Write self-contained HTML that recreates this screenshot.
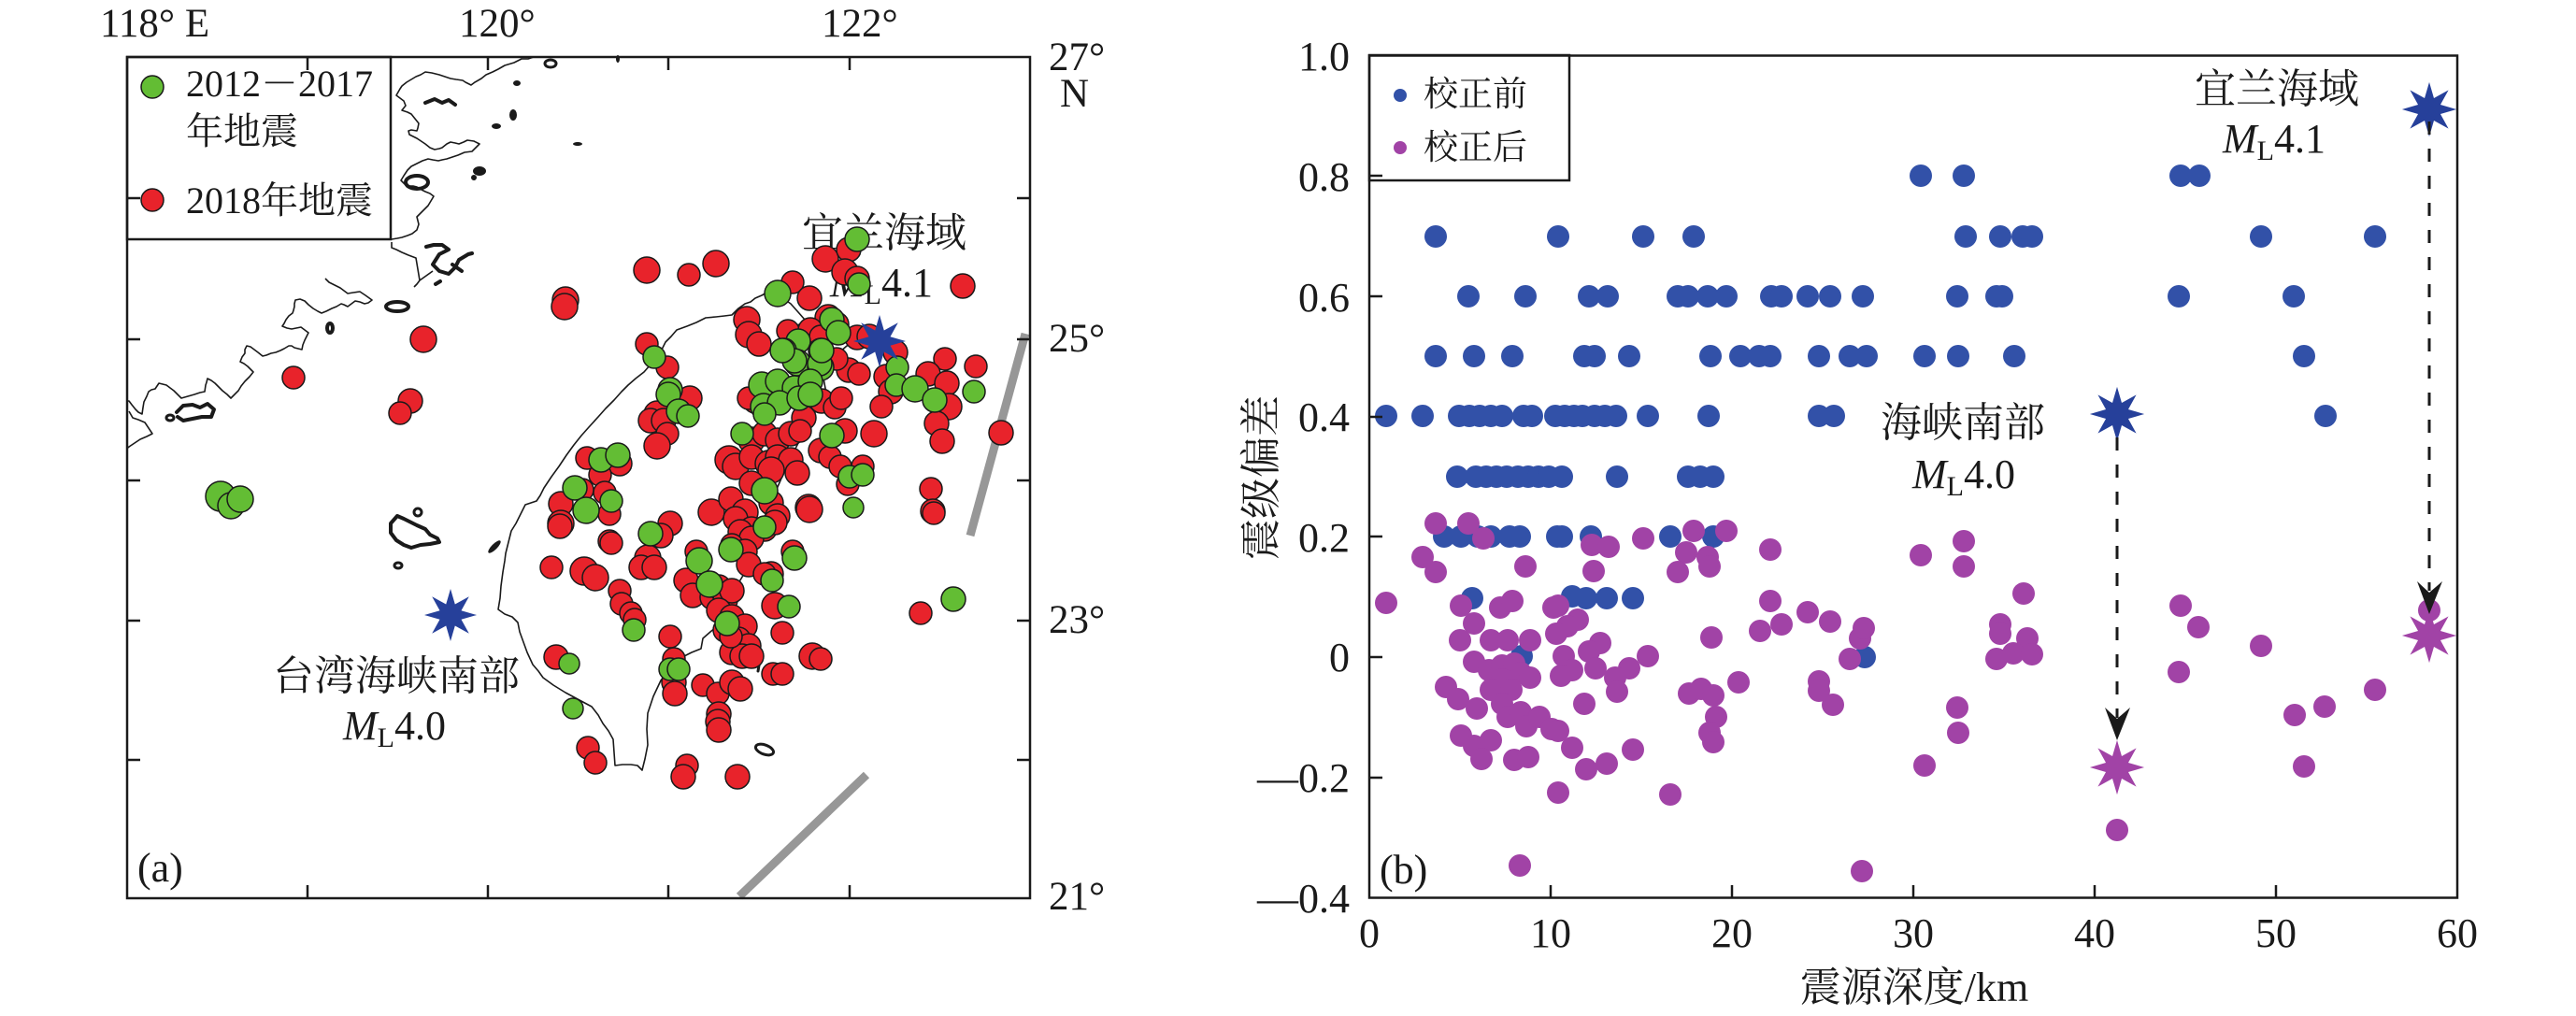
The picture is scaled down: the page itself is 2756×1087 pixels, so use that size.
<!DOCTYPE html>
<html>
<head>
<meta charset="utf-8">
<style>
html,body{margin:0;padding:0;background:#fff;}
body{width:2756px;height:1087px;overflow:hidden;}
svg{display:block;}
text{font-family:"Liberation Serif","Noto Serif CJK SC",serif;fill:#1a1a1a;}
</style>
</head>
<body>
<svg width="2756" height="1087" viewBox="0 0 2756 1087" xmlns="http://www.w3.org/2000/svg">
<rect x="0" y="0" width="2756" height="1087" fill="#fff"/>

<!-- ================= MAP (a) ================= -->
<g fill="none" stroke="#1a1a1a" stroke-width="1.6" stroke-linejoin="round">
<path d="M571,61 L565,63 558,63 550,67 540,70 533,74 527,77 520,80 515,84 508,88 504,91 498,88 495,86 488,85 482,84 476,82 470,80 462,78 455,77 450,80 445,82 440,85 435,88 430,92 428,95 424,102 428,105 432,108 434,113 430,118 436,120 440,122 444,127 448,132 447,137 446,140 440,139 437,140 438,144 446,148 455,154 460,158 465,160 470,159 473,158 478,154 482,152 487,153 491,154 496,152 500,150 507,151 513,154 509,158 505,162 497,163 490,166 484,168 478,170 473,171 469,172 463,171 458,170 452,172 446,175 440,178 436,182 432,188 429,193 433,197 437,199 442,199 446,200 451,203 455,205 460,207 464,210 461,215 458,220 454,224 450,228 446,232 447,236 448,240 447,243 446,246 441,250 436,252 430,254 425,255 419,256"/>
<path d="M419,259 L419,265 424,267 430,270 437,273 445,276 446,282 447,288 448,294 449,300 446,304 443,307 M449,300 L456,295 463,290"/>
<path d="M348,298 L352,302 356,304 360,306 364,308 368,311 372,314 378,313 385,312 391,316 398,321 394,324 390,325 385,323 380,322 376,325 372,328 368,326 365,325 360,328 355,330 349,333 344,335 340,333 335,330 330,326 326,322 321,320 316,321 315,325 315,328 314,332 313,335 309,338 306,342 304,346 302,349 307,351 312,352 317,351 322,350 326,353 330,356 328,360 326,364 324,369 323,374 319,373 315,372 312,370 309,370 304,373 300,375 295,377 290,378 285,380 281,381 276,377 272,374 268,371 264,370 262,374 262,378 259,382 257,387 261,389 265,392 268,395 271,398 267,403 262,408 258,413 255,418 251,422 247,426 243,422 238,418 234,414 230,410 226,407 222,405 221,409 220,412 219,419 214,420 208,422 201,424 194,426 190,422 186,418 182,415 178,412 174,411 170,410 168,413 166,416 162,417 159,419 157,424 154,430 153,436 152,443 148,441 145,438 141,433 138,429 137,429"/>
<path d="M138,440 L142,447 148,449 155,452 159,458 163,464 157,467 150,470 144,474 138,478 137,479"/>
</g>
<g fill="none" stroke="#1a1a1a" stroke-width="4" stroke-linejoin="round" stroke-linecap="round">
<path d="M456,264 L464,262 473,262 480,267 470,272 463,283 470,290 480,293 487,286 491,278 501,272 505,271"/>
<path d="M484,283 L494,290 M466,304 L471,301"/>
<ellipse cx="425" cy="328" rx="12" ry="5"/>
<ellipse cx="353" cy="351" rx="3" ry="5"/>
<path d="M189,441 L196,434 206,433 214,436 222,432 229,438 226,446 216,446 206,448 196,450 190,446"/>
<ellipse cx="182" cy="447" rx="4" ry="3" stroke-width="3"/>
<ellipse cx="446" cy="195" rx="12" ry="7"/>
<path d="M455,110 L465,106 473,110 480,107 487,112"/>
<ellipse cx="589" cy="68" rx="6" ry="4" stroke-width="3"/>
<path d="M418,560 L425,552 432,555 438,558 446,562 455,566 460,572 468,576 470,580 460,582 450,583 440,586 432,583 424,578 418,570 Z"/>
<circle cx="447" cy="548" r="4" stroke-width="3"/>
<ellipse cx="426" cy="605" rx="4" ry="3" stroke-width="3"/>
<ellipse cx="818" cy="802" rx="10" ry="5" stroke-width="3" transform="rotate(20 818 802)"/>
<path d="M806,709 L812,712 811,718" stroke-width="3"/>
</g>
<g fill="#1a1a1a">
<ellipse cx="513" cy="183" rx="7" ry="5"/>
<ellipse cx="507" cy="190" rx="3" ry="3"/>
<ellipse cx="531" cy="135" rx="5" ry="3"/>
<ellipse cx="549" cy="123" rx="4" ry="6"/>
<ellipse cx="553" cy="89" rx="4" ry="3"/>
<ellipse cx="618" cy="154" rx="5" ry="2"/>
<ellipse cx="661" cy="63" rx="2" ry="4"/>
<ellipse cx="529" cy="585" rx="9" ry="3" transform="rotate(-45 529 585)"/>
</g>
<path fill="none" stroke="#1a1a1a" stroke-width="1.6" stroke-linejoin="round" d="M822,312 L815,316 808,319 803,323 797,325 790,330 783,337 775,338 766,339 755,340 745,345 735,349 724,353 718,360 712,366 710,370 706,378 703,384 696,390 689,398 680,405 672,412 665,419 657,428 648,437 640,446 630,457 622,466 614,476 606,487 598,499 590,510 582,522 578,530 574,536 568,538 562,540 558,548 552,560 547,568 544,580 541,592 540,600 538,612 536,627 535,640 533,652 540,657 548,660 554,666 556,676 560,687 564,698 570,711 576,718 581,725 592,733 605,741 618,748 633,756 640,765 645,774 651,782 656,791 657,805 658,819 666,818 675,818 682,819 687,824 690,812 693,797 692,780 693,763 699,745 707,728 716,716 728,704 740,698 750,694 752,683 760,676 766,671 771,657 776,645 783,634 790,624 796,614 801,605 806,595 811,585 811,571 816,558 822,545 828,530 835,514 842,498 850,482 860,462 870,444 878,432 884,421 882,410 880,398 888,388 897,378 906,370 916,367 909,360 898,356 888,350 878,346 868,344 861,342 854,334 846,325 836,318 828,313 822,312"/>

<g stroke="#979797" stroke-width="9" fill="none">
<line x1="791" y1="959" x2="927" y2="829"/>
<line x1="1038" y1="573" x2="1097" y2="357"/>
</g>

<!-- Yilan label drawn under circles -->
<g font-size="44">
<text x="946" y="264" text-anchor="middle">宜兰海域</text>
<text x="888" y="317"><tspan font-style="italic">M</tspan><tspan font-size="30" dy="8">L</tspan><tspan dy="-8">4.1</tspan></text>
</g>

<g fill="#e8232b" stroke="#1a1a1a" stroke-width="1.5">
<circle cx="453" cy="363" r="14"/><circle cx="314" cy="404" r="12"/><circle cx="439" cy="429" r="13"/><circle cx="428" cy="442" r="12"/>
<circle cx="605" cy="321" r="14"/><circle cx="604" cy="328" r="14"/><circle cx="692" cy="289" r="14"/><circle cx="737" cy="294" r="12"/>
<circle cx="766" cy="282" r="14"/><circle cx="883" cy="277" r="14"/><circle cx="908" cy="267" r="13"/><circle cx="904" cy="291" r="14"/>
<circle cx="917" cy="298" r="13"/><circle cx="1030" cy="306" r="13"/><circle cx="848" cy="302" r="12"/><circle cx="866" cy="319" r="13"/>
<circle cx="799" cy="342" r="14"/><circle cx="801" cy="358" r="14"/><circle cx="812" cy="368" r="13"/><circle cx="692" cy="368" r="12"/>
<circle cx="714" cy="393" r="12"/><circle cx="886" cy="340" r="14"/><circle cx="895" cy="347" r="13"/><circle cx="917" cy="361" r="13"/>
<circle cx="1011" cy="384" r="12"/><circle cx="1044" cy="392" r="12"/><circle cx="857" cy="360" r="13"/><circle cx="843" cy="354" r="12"/>
<circle cx="867" cy="353" r="13"/><circle cx="878" cy="360" r="12"/><circle cx="908" cy="396" r="13"/><circle cx="919" cy="400" r="12"/>
<circle cx="948" cy="403" r="13"/><circle cx="953" cy="419" r="13"/><circle cx="993" cy="400" r="13"/><circle cx="1013" cy="410" r="13"/>
<circle cx="1015" cy="435" r="14"/><circle cx="1002" cy="453" r="13"/><circle cx="1008" cy="472" r="13"/><circle cx="1071" cy="463" r="13"/>
<circle cx="943" cy="435" r="12"/><circle cx="958" cy="377" r="13"/><circle cx="930" cy="360" r="13"/><circle cx="895" cy="384" r="12"/>
<circle cx="860" cy="447" r="13"/><circle cx="808" cy="429" r="13"/><circle cx="801" cy="426" r="12"/><circle cx="879" cy="429" r="13"/>
<circle cx="893" cy="436" r="12"/><circle cx="900" cy="426" r="12"/><circle cx="738" cy="426" r="13"/><circle cx="703" cy="443" r="14"/>
<circle cx="696" cy="450" r="13"/><circle cx="710" cy="450" r="13"/><circle cx="714" cy="464" r="12"/><circle cx="703" cy="477" r="14"/>
<circle cx="628" cy="490" r="12"/><circle cx="663" cy="496" r="13"/><circle cx="642" cy="508" r="12"/><circle cx="623" cy="524" r="12"/>
<circle cx="600" cy="539" r="13"/><circle cx="600" cy="560" r="14"/><circle cx="647" cy="527" r="12"/><circle cx="652" cy="550" r="12"/>
<circle cx="935" cy="464" r="14"/><circle cx="904" cy="461" r="13"/><circle cx="878" cy="482" r="13"/><circle cx="888" cy="489" r="12"/>
<circle cx="899" cy="499" r="12"/><circle cx="804" cy="471" r="14"/><circle cx="818" cy="464" r="13"/><circle cx="832" cy="471" r="13"/>
<circle cx="846" cy="464" r="13"/><circle cx="856" cy="461" r="12"/><circle cx="780" cy="492" r="15"/><circle cx="787" cy="499" r="14"/>
<circle cx="804" cy="489" r="13"/><circle cx="822" cy="496" r="14"/><circle cx="832" cy="489" r="13"/><circle cx="846" cy="492" r="13"/>
<circle cx="853" cy="506" r="13"/><circle cx="825" cy="503" r="14"/><circle cx="923" cy="499" r="12"/><circle cx="907" cy="518" r="12"/>
<circle cx="996" cy="523" r="12"/><circle cx="998" cy="547" r="13"/><circle cx="865" cy="543" r="14"/><circle cx="761" cy="548" r="14"/>
<circle cx="782" cy="534" r="13"/><circle cx="804" cy="517" r="13"/><circle cx="825" cy="538" r="13"/><circle cx="832" cy="552" r="13"/>
<circle cx="797" cy="548" r="14"/><circle cx="787" cy="555" r="13"/><circle cx="804" cy="566" r="13"/><circle cx="818" cy="566" r="13"/>
<circle cx="829" cy="559" r="13"/><circle cx="792" cy="569" r="13"/><circle cx="804" cy="576" r="13"/><circle cx="783" cy="583" r="12"/>
<circle cx="797" cy="590" r="13"/><circle cx="801" cy="604" r="13"/><circle cx="848" cy="590" r="12"/><circle cx="825" cy="614" r="13"/>
<circle cx="818" cy="614" r="12"/><circle cx="829" cy="648" r="14"/><circle cx="985" cy="656" r="12"/><circle cx="837" cy="677" r="12"/>
<circle cx="869" cy="702" r="14"/><circle cx="878" cy="705" r="12"/><circle cx="827" cy="721" r="12"/><circle cx="837" cy="721" r="12"/>
<circle cx="717" cy="560" r="13"/><circle cx="707" cy="573" r="13"/><circle cx="652" cy="579" r="12"/><circle cx="693" cy="597" r="14"/>
<circle cx="686" cy="607" r="13"/><circle cx="700" cy="607" r="13"/><circle cx="590" cy="607" r="12"/><circle cx="625" cy="611" r="15"/>
<circle cx="637" cy="618" r="14"/><circle cx="663" cy="632" r="12"/><circle cx="665" cy="646" r="12"/><circle cx="675" cy="656" r="12"/>
<circle cx="679" cy="663" r="12"/><circle cx="745" cy="590" r="12"/><circle cx="734" cy="621" r="13"/><circle cx="741" cy="637" r="13"/>
<circle cx="762" cy="639" r="13"/><circle cx="769" cy="628" r="13"/><circle cx="776" cy="642" r="13"/><circle cx="783" cy="632" r="13"/>
<circle cx="769" cy="653" r="13"/><circle cx="783" cy="660" r="13"/><circle cx="797" cy="670" r="13"/><circle cx="776" cy="674" r="13"/>
<circle cx="790" cy="684" r="13"/><circle cx="801" cy="691" r="13"/><circle cx="783" cy="698" r="13"/><circle cx="794" cy="702" r="13"/>
<circle cx="804" cy="702" r="13"/><circle cx="782" cy="681" r="12"/><circle cx="717" cy="681" r="12"/><circle cx="721" cy="705" r="12"/>
<circle cx="721" cy="730" r="13"/><circle cx="722" cy="742" r="13"/><circle cx="752" cy="733" r="12"/><circle cx="768" cy="742" r="12"/>
<circle cx="783" cy="730" r="13"/><circle cx="792" cy="737" r="13"/><circle cx="769" cy="764" r="13"/><circle cx="768" cy="772" r="13"/>
<circle cx="769" cy="781" r="13"/><circle cx="735" cy="819" r="12"/><circle cx="731" cy="831" r="13"/><circle cx="789" cy="831" r="13"/>
<circle cx="595" cy="703" r="13"/><circle cx="629" cy="800" r="12"/><circle cx="637" cy="816" r="12"/><circle cx="999" cy="549" r="12"/>
<circle cx="599" cy="563" r="13"/><circle cx="654" cy="581" r="12"/><circle cx="866" cy="545" r="14"/>
</g>
<g fill="#63bd34" stroke="#1a1a1a" stroke-width="1.5">
<circle cx="236" cy="531" r="16"/><circle cx="247" cy="541" r="14"/><circle cx="257" cy="534" r="14"/>
<circle cx="917" cy="256" r="13"/><circle cx="832" cy="314" r="14"/><circle cx="919" cy="304" r="12"/><circle cx="890" cy="342" r="13"/>
<circle cx="897" cy="356" r="13"/><circle cx="854" cy="365" r="13"/><circle cx="839" cy="375" r="13"/><circle cx="878" cy="375" r="13"/>
<circle cx="853" cy="388" r="14"/><circle cx="878" cy="393" r="14"/><circle cx="850" cy="386" r="13"/><circle cx="877" cy="389" r="13"/>
<circle cx="837" cy="375" r="13"/><circle cx="879" cy="375" r="13"/><circle cx="960" cy="393" r="12"/><circle cx="959" cy="412" r="12"/>
<circle cx="979" cy="416" r="14"/><circle cx="1000" cy="428" r="13"/><circle cx="1042" cy="419" r="12"/><circle cx="815" cy="412" r="14"/>
<circle cx="832" cy="408" r="13"/><circle cx="850" cy="415" r="13"/><circle cx="867" cy="408" r="13"/><circle cx="817" cy="435" r="14"/>
<circle cx="834" cy="431" r="13"/><circle cx="855" cy="426" r="13"/><circle cx="867" cy="422" r="13"/><circle cx="818" cy="443" r="12"/>
<circle cx="700" cy="382" r="12"/><circle cx="717" cy="417" r="13"/><circle cx="715" cy="422" r="13"/><circle cx="726" cy="440" r="13"/>
<circle cx="736" cy="445" r="12"/><circle cx="890" cy="466" r="13"/><circle cx="794" cy="464" r="12"/><circle cx="909" cy="510" r="12"/>
<circle cx="923" cy="508" r="12"/><circle cx="913" cy="543" r="11"/><circle cx="818" cy="525" r="14"/><circle cx="818" cy="564" r="12"/>
<circle cx="782" cy="588" r="13"/><circle cx="850" cy="597" r="13"/><circle cx="826" cy="621" r="12"/><circle cx="844" cy="649" r="12"/>
<circle cx="1020" cy="641" r="13"/><circle cx="643" cy="492" r="13"/><circle cx="661" cy="487" r="13"/><circle cx="615" cy="522" r="13"/>
<circle cx="627" cy="546" r="14"/><circle cx="654" cy="536" r="12"/><circle cx="696" cy="571" r="13"/><circle cx="748" cy="600" r="14"/>
<circle cx="759" cy="625" r="14"/><circle cx="778" cy="667" r="13"/><circle cx="678" cy="674" r="12"/><circle cx="609" cy="710" r="11"/>
<circle cx="717" cy="716" r="12"/><circle cx="726" cy="716" r="12"/><circle cx="613" cy="758" r="11"/>
</g>

<g fill="#26409a">
<polygon transform="translate(482,658)" points="28,0 11.5,4.8 19.8,19.8 4.8,11.5 0,28 -4.8,11.5 -19.8,19.8 -11.5,4.8 -28,0 -11.5,-4.8 -19.8,-19.8 -4.8,-11.5 0,-28 4.8,-11.5 19.8,-19.8 11.5,-4.8"/>
<polygon transform="translate(941,365)" points="28,0 11.5,4.8 19.8,19.8 4.8,11.5 0,28 -4.8,11.5 -19.8,19.8 -11.5,4.8 -28,0 -11.5,-4.8 -19.8,-19.8 -4.8,-11.5 0,-28 4.8,-11.5 19.8,-19.8 11.5,-4.8"/>
</g>

<rect x="136" y="61" width="282" height="195" fill="#fff" stroke="#1a1a1a" stroke-width="2.5"/>
<circle cx="163" cy="93" r="12" fill="#63bd34" stroke="#1a1a1a" stroke-width="1.5"/>
<circle cx="163" cy="214" r="12" fill="#e8232b" stroke="#1a1a1a" stroke-width="1.5"/>
<text x="199" y="103" font-size="40">2012－2017</text>
<text x="199" y="154" font-size="40">年地震</text>
<text x="199" y="228" font-size="40">2018年地震</text>

<rect x="136" y="61" width="966" height="900" fill="none" stroke="#1a1a1a" stroke-width="2.5"/>
<g stroke="#1a1a1a" stroke-width="2.5">
<line x1="329" y1="61" x2="329" y2="75"/><line x1="522" y1="61" x2="522" y2="75"/><line x1="715" y1="61" x2="715" y2="75"/><line x1="909" y1="61" x2="909" y2="75"/>
<line x1="329" y1="961" x2="329" y2="947"/><line x1="522" y1="961" x2="522" y2="947"/><line x1="715" y1="961" x2="715" y2="947"/><line x1="909" y1="961" x2="909" y2="947"/>
<line x1="136" y1="212" x2="150" y2="212"/><line x1="136" y1="363" x2="150" y2="363"/><line x1="136" y1="514" x2="150" y2="514"/><line x1="136" y1="664" x2="150" y2="664"/><line x1="136" y1="813" x2="150" y2="813"/>
<line x1="1102" y1="212" x2="1088" y2="212"/><line x1="1102" y1="363" x2="1088" y2="363"/><line x1="1102" y1="514" x2="1088" y2="514"/><line x1="1102" y1="664" x2="1088" y2="664"/><line x1="1102" y1="813" x2="1088" y2="813"/>
</g>
<g font-size="43">
<text x="107" y="39">118° E</text>
<text x="491" y="39">120°</text>
<text x="879" y="39">122°</text>
<text x="1122" y="75">27°</text>
<text x="1134" y="114">N</text>
<text x="1122" y="376">25°</text>
<text x="1122" y="677">23°</text>
<text x="1122" y="973">21°</text>
</g>
<g font-size="44">
<text x="292" y="738">台湾海峡南部</text>
<text x="367" y="791"><tspan font-style="italic">M</tspan><tspan font-size="30" dy="8">L</tspan><tspan dy="-8">4.0</tspan></text>
<text x="147" y="943">(a)</text>
</g>

<!-- ================= CHART (b) ================= -->
<g fill="#3251a8">
<circle cx="2055" cy="188" r="12"/><circle cx="2101" cy="188" r="12"/><circle cx="2333" cy="188" r="12"/><circle cx="2353" cy="188" r="12"/>
<circle cx="1536" cy="253" r="12"/><circle cx="1667" cy="253" r="12"/><circle cx="1758" cy="253" r="12"/><circle cx="1812" cy="253" r="12"/><circle cx="2103" cy="253" r="12"/><circle cx="2140" cy="253" r="12"/><circle cx="2164" cy="253" r="12"/><circle cx="2174" cy="253" r="12"/><circle cx="2419" cy="253" r="12"/><circle cx="2541" cy="253" r="12"/>
<circle cx="1571" cy="317" r="12"/><circle cx="1632" cy="317" r="12"/><circle cx="1700" cy="317" r="12"/><circle cx="1720" cy="317" r="12"/><circle cx="1795" cy="317" r="12"/><circle cx="1806" cy="317" r="12"/><circle cx="1827" cy="317" r="12"/><circle cx="1847" cy="317" r="12"/><circle cx="1895" cy="317" r="12"/><circle cx="1906" cy="317" r="12"/><circle cx="1934" cy="317" r="12"/><circle cx="1958" cy="317" r="12"/><circle cx="1993" cy="317" r="12"/><circle cx="2094" cy="317" r="12"/><circle cx="2136" cy="317" r="12"/><circle cx="2142" cy="317" r="12"/><circle cx="2331" cy="317" r="12"/><circle cx="2454" cy="317" r="12"/>
<circle cx="1536" cy="381" r="12"/><circle cx="1577" cy="381" r="12"/><circle cx="1618" cy="381" r="12"/><circle cx="1695" cy="381" r="12"/><circle cx="1706" cy="381" r="12"/><circle cx="1743" cy="381" r="12"/><circle cx="1830" cy="381" r="12"/><circle cx="1862" cy="381" r="12"/><circle cx="1882" cy="381" r="12"/><circle cx="1894" cy="381" r="12"/><circle cx="1946" cy="381" r="12"/><circle cx="1979" cy="381" r="12"/><circle cx="1997" cy="381" r="12"/><circle cx="2059" cy="381" r="12"/><circle cx="2095" cy="381" r="12"/><circle cx="2155" cy="381" r="12"/><circle cx="2465" cy="381" r="12"/>
<circle cx="1483" cy="445" r="12"/><circle cx="1522" cy="445" r="12"/><circle cx="1561" cy="445" r="12"/><circle cx="1572" cy="445" r="12"/><circle cx="1583" cy="445" r="12"/><circle cx="1595" cy="445" r="12"/><circle cx="1607" cy="445" r="12"/><circle cx="1630" cy="445" r="12"/><circle cx="1639" cy="445" r="12"/><circle cx="1664" cy="445" r="12"/><circle cx="1674" cy="445" r="12"/><circle cx="1684" cy="445" r="12"/><circle cx="1693" cy="445" r="12"/><circle cx="1706" cy="445" r="12"/><circle cx="1717" cy="445" r="12"/><circle cx="1729" cy="445" r="12"/><circle cx="1763" cy="445" r="12"/><circle cx="1828" cy="445" r="12"/><circle cx="1946" cy="445" r="12"/><circle cx="1962" cy="445" r="12"/><circle cx="2488" cy="445" r="12"/>
<circle cx="1559" cy="510" r="12"/><circle cx="1579" cy="510" r="12"/><circle cx="1590" cy="510" r="12"/><circle cx="1601" cy="510" r="12"/><circle cx="1612" cy="510" r="12"/><circle cx="1624" cy="510" r="12"/><circle cx="1635" cy="510" r="12"/><circle cx="1646" cy="510" r="12"/><circle cx="1657" cy="510" r="12"/><circle cx="1671" cy="510" r="12"/><circle cx="1730" cy="510" r="12"/><circle cx="1806" cy="510" r="12"/><circle cx="1819" cy="510" r="12"/><circle cx="1833" cy="510" r="12"/>
<circle cx="1545" cy="574" r="12"/><circle cx="1563" cy="574" r="12"/><circle cx="1581" cy="574" r="12"/><circle cx="1595" cy="574" r="12"/><circle cx="1615" cy="574" r="12"/><circle cx="1626" cy="574" r="12"/><circle cx="1666" cy="574" r="12"/><circle cx="1671" cy="574" r="12"/><circle cx="1702" cy="574" r="12"/><circle cx="1787" cy="574" r="12"/><circle cx="1833" cy="574" r="12"/>
<circle cx="1575" cy="640" r="12"/><circle cx="1682" cy="638" r="12"/><circle cx="1697" cy="640" r="12"/><circle cx="1719" cy="640" r="12"/><circle cx="1747" cy="640" r="12"/>
<circle cx="1628" cy="702" r="12"/><circle cx="1995" cy="703" r="12"/>
</g>
<g fill="#a143a6">
<circle cx="1536" cy="560" r="12"/><circle cx="1571" cy="560" r="12"/><circle cx="1587" cy="576" r="12"/><circle cx="1522" cy="596" r="12"/><circle cx="1536" cy="612" r="12"/><circle cx="1632" cy="606" r="12"/><circle cx="1703" cy="583" r="12"/><circle cx="1721" cy="585" r="12"/><circle cx="1705" cy="611" r="12"/><circle cx="1758" cy="576" r="12"/><circle cx="1812" cy="568" r="12"/><circle cx="1847" cy="568" r="12"/><circle cx="1804" cy="591" r="12"/><circle cx="1827" cy="596" r="12"/><circle cx="1829" cy="606" r="12"/><circle cx="1795" cy="612" r="12"/><circle cx="1894" cy="588" r="12"/>
<circle cx="1483" cy="645" r="12"/><circle cx="1563" cy="648" r="12"/><circle cx="1577" cy="667" r="12"/><circle cx="1605" cy="650" r="12"/><circle cx="1618" cy="643" r="12"/><circle cx="1662" cy="650" r="12"/><circle cx="1667" cy="648" r="12"/><circle cx="1688" cy="663" r="12"/><circle cx="1677" cy="670" r="12"/><circle cx="1665" cy="678" r="12"/><circle cx="1562" cy="685" r="12"/><circle cx="1595" cy="685" r="12"/><circle cx="1613" cy="685" r="12"/><circle cx="1637" cy="685" r="12"/><circle cx="1673" cy="702" r="12"/><circle cx="1712" cy="688" r="12"/><circle cx="1700" cy="697" r="12"/><circle cx="1763" cy="702" r="12"/>
<circle cx="1577" cy="708" r="12"/><circle cx="1593" cy="717" r="12"/><circle cx="1607" cy="712" r="12"/><circle cx="1620" cy="710" r="12"/><circle cx="1627" cy="720" r="12"/><circle cx="1637" cy="725" r="12"/><circle cx="1607" cy="727" r="12"/><circle cx="1682" cy="717" r="12"/><circle cx="1670" cy="723" r="12"/><circle cx="1707" cy="715" r="12"/><circle cx="1743" cy="715" r="12"/><circle cx="1728" cy="725" r="12"/><circle cx="1730" cy="740" r="12"/>
<circle cx="1547" cy="735" r="12"/><circle cx="1560" cy="748" r="12"/><circle cx="1580" cy="758" r="12"/><circle cx="1595" cy="738" r="12"/><circle cx="1617" cy="738" r="12"/><circle cx="1607" cy="753" r="12"/><circle cx="1613" cy="767" r="12"/><circle cx="1627" cy="762" r="12"/><circle cx="1633" cy="777" r="12"/><circle cx="1647" cy="767" r="12"/><circle cx="1660" cy="780" r="12"/><circle cx="1667" cy="782" r="12"/><circle cx="1695" cy="753" r="12"/>
<circle cx="1563" cy="787" r="12"/><circle cx="1577" cy="798" r="12"/><circle cx="1595" cy="792" r="12"/><circle cx="1585" cy="812" r="12"/><circle cx="1620" cy="813" r="12"/><circle cx="1635" cy="810" r="12"/><circle cx="1682" cy="800" r="12"/><circle cx="1697" cy="823" r="12"/><circle cx="1719" cy="817" r="12"/><circle cx="1747" cy="802" r="12"/><circle cx="1667" cy="848" r="12"/><circle cx="1787" cy="850" r="12"/><circle cx="1626" cy="926" r="12"/><circle cx="1992" cy="932" r="12"/>
<circle cx="1894" cy="643" r="12"/><circle cx="1934" cy="655" r="12"/><circle cx="1958" cy="665" r="12"/><circle cx="1883" cy="675" r="12"/><circle cx="1906" cy="668" r="12"/><circle cx="1831" cy="682" r="12"/><circle cx="1990" cy="683" r="12"/><circle cx="1994" cy="672" r="12"/><circle cx="1979" cy="705" r="12"/>
<circle cx="1860" cy="730" r="12"/><circle cx="1807" cy="742" r="12"/><circle cx="1820" cy="737" r="12"/><circle cx="1833" cy="744" r="12"/><circle cx="1836" cy="767" r="12"/><circle cx="1829" cy="784" r="12"/><circle cx="1833" cy="794" r="12"/><circle cx="1946" cy="729" r="12"/><circle cx="1946" cy="739" r="12"/><circle cx="1961" cy="754" r="12"/>
<circle cx="2055" cy="594" r="12"/><circle cx="2101" cy="579" r="12"/><circle cx="2101" cy="606" r="12"/><circle cx="2165" cy="635" r="12"/><circle cx="2140" cy="668" r="12"/><circle cx="2140" cy="678" r="12"/><circle cx="2169" cy="683" r="12"/><circle cx="2154" cy="699" r="12"/><circle cx="2174" cy="700" r="12"/><circle cx="2136" cy="705" r="12"/><circle cx="2094" cy="757" r="12"/><circle cx="2095" cy="784" r="12"/><circle cx="2059" cy="819" r="12"/><circle cx="2265" cy="888" r="12"/><circle cx="2333" cy="648" r="12"/><circle cx="2352" cy="671" r="12"/><circle cx="2331" cy="719" r="12"/><circle cx="2419" cy="691" r="12"/><circle cx="2455" cy="765" r="12"/><circle cx="2487" cy="756" r="12"/><circle cx="2465" cy="820" r="12"/><circle cx="2541" cy="738" r="12"/><circle cx="2599" cy="653" r="12"/>
</g>

<polygon fill="#26409a" transform="translate(2265,443) scale(1.04)" points="28,0 11.5,4.8 19.8,19.8 4.8,11.5 0,28 -4.8,11.5 -19.8,19.8 -11.5,4.8 -28,0 -11.5,-4.8 -19.8,-19.8 -4.8,-11.5 0,-28 4.8,-11.5 19.8,-19.8 11.5,-4.8"/>
<polygon fill="#26409a" transform="translate(2599,117) scale(1.04)" points="28,0 11.5,4.8 19.8,19.8 4.8,11.5 0,28 -4.8,11.5 -19.8,19.8 -11.5,4.8 -28,0 -11.5,-4.8 -19.8,-19.8 -4.8,-11.5 0,-28 4.8,-11.5 19.8,-19.8 11.5,-4.8"/>
<polygon fill="#a143a6" transform="translate(2265,821) scale(1.04)" points="28,0 11.5,4.8 19.8,19.8 4.8,11.5 0,28 -4.8,11.5 -19.8,19.8 -11.5,4.8 -28,0 -11.5,-4.8 -19.8,-19.8 -4.8,-11.5 0,-28 4.8,-11.5 19.8,-19.8 11.5,-4.8"/>
<polygon fill="#a143a6" transform="translate(2599,680) scale(1.04)" points="28,0 11.5,4.8 19.8,19.8 4.8,11.5 0,28 -4.8,11.5 -19.8,19.8 -11.5,4.8 -28,0 -11.5,-4.8 -19.8,-19.8 -4.8,-11.5 0,-28 4.8,-11.5 19.8,-19.8 11.5,-4.8"/>
<g stroke="#1a1a1a" stroke-width="3" stroke-dasharray="14,15" fill="none">
<line x1="2265" y1="468" x2="2265" y2="768"/>
<line x1="2599" y1="130" x2="2599" y2="632"/>
</g>
<g fill="#1a1a1a">
<polygon points="2265,792 2252,757 2265,769 2279,757"/>
<polygon points="2599,657 2586,622 2599,634 2613,622"/>
</g>

<rect x="1465" y="59" width="214" height="134" fill="#fff" stroke="#1a1a1a" stroke-width="2.5"/>
<circle cx="1498" cy="102" r="7" fill="#3251a8"/>
<circle cx="1498" cy="158" r="7" fill="#a143a6"/>
<text x="1523" y="113" font-size="37">校正前</text>
<text x="1523" y="170" font-size="37">校正后</text>

<rect x="1465" y="59.5" width="1164" height="901" fill="none" stroke="#1a1a1a" stroke-width="2.5"/>
<g stroke="#1a1a1a" stroke-width="2.5">
<line x1="1465" y1="188" x2="1479" y2="188"/><line x1="1465" y1="317" x2="1479" y2="317"/><line x1="1465" y1="446" x2="1479" y2="446"/><line x1="1465" y1="574" x2="1479" y2="574"/><line x1="1465" y1="703" x2="1479" y2="703"/><line x1="1465" y1="832" x2="1479" y2="832"/>
<line x1="1659" y1="961" x2="1659" y2="947"/><line x1="1853" y1="961" x2="1853" y2="947"/><line x1="2047" y1="961" x2="2047" y2="947"/><line x1="2241" y1="961" x2="2241" y2="947"/><line x1="2435" y1="961" x2="2435" y2="947"/>
</g>
<g font-size="44" text-anchor="end">
<text x="1444" y="75">1.0</text>
<text x="1444" y="204">0.8</text>
<text x="1444" y="333">0.6</text>
<text x="1444" y="461">0.4</text>
<text x="1444" y="590">0.2</text>
<text x="1444" y="718">0</text>
<text x="1444" y="847">—0.2</text>
<text x="1444" y="976">—0.4</text>
</g>
<g font-size="44" text-anchor="middle">
<text x="1465" y="1013">0</text>
<text x="1659" y="1013">10</text>
<text x="1853" y="1013">20</text>
<text x="2047" y="1013">30</text>
<text x="2241" y="1013">40</text>
<text x="2435" y="1013">50</text>
<text x="2629" y="1013">60</text>
<text x="2048" y="1071">震源深度/km</text>
<text transform="translate(1364,511) rotate(-90)">震级偏差</text>
</g>
<g font-size="44">
<text x="2436" y="110" text-anchor="middle">宜兰海域</text>
<text x="2378" y="163"><tspan font-style="italic">M</tspan><tspan font-size="30" dy="8">L</tspan><tspan dy="-8">4.1</tspan></text>
<text x="2100" y="467" text-anchor="middle">海峡南部</text>
<text x="2046" y="522"><tspan font-style="italic">M</tspan><tspan font-size="30" dy="8">L</tspan><tspan dy="-8">4.0</tspan></text>
<text x="1476" y="945">(b)</text>
</g>
</svg>
</body>
</html>
